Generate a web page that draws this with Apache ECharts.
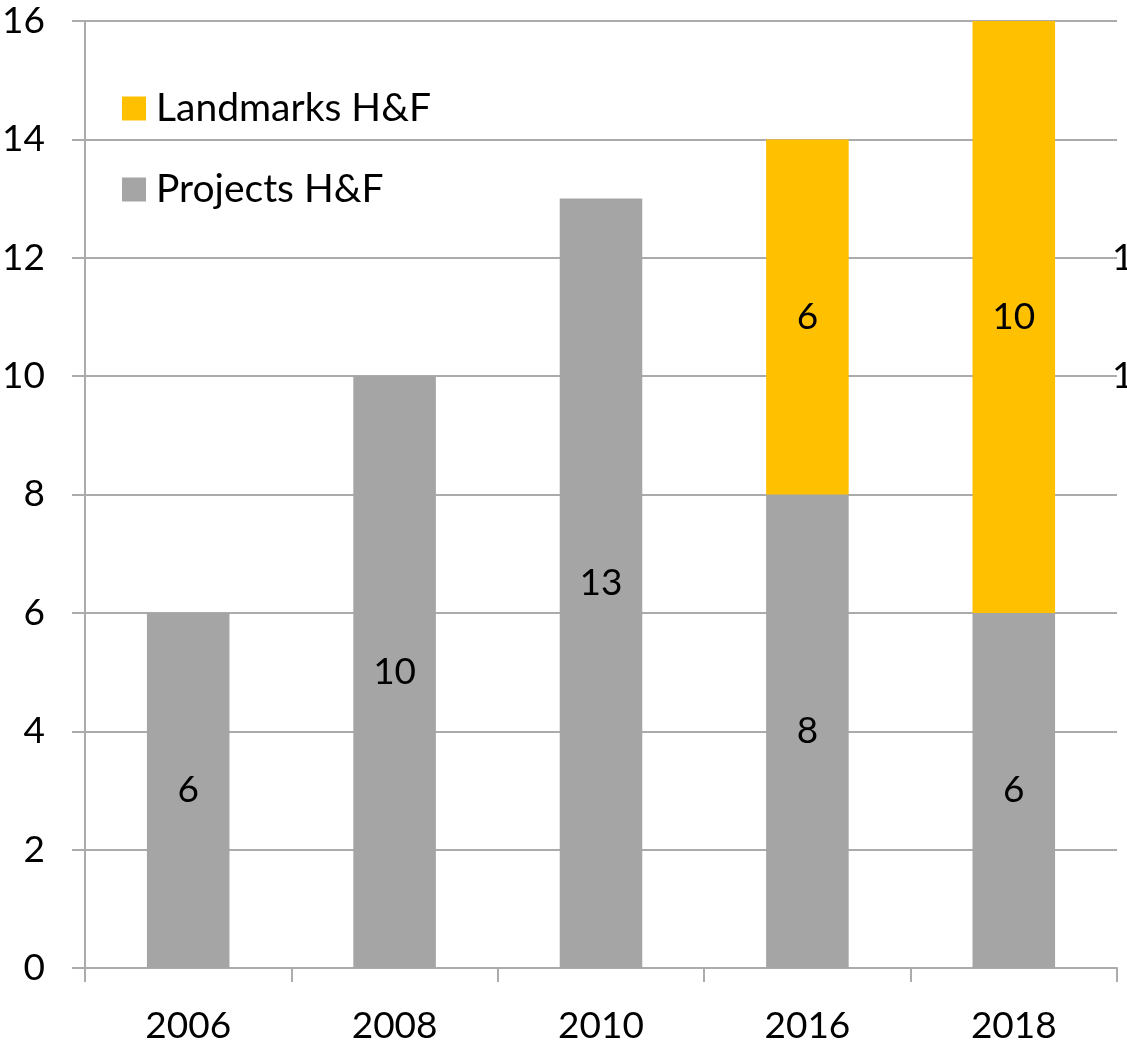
<!DOCTYPE html>
<html>
<head>
    <meta charset="utf-8">
    <title>H&F</title>
    <script src="https://cdn.jsdelivr.net/npm/echarts@6/dist/echarts.min.js"></script>
    <style>
        html, body { margin: 0; padding: 0; background: #fff; }
    </style>
</head>
<body>
<div id="main" style="width: 1127px;height:1052px;"></div>

<script type="text/javascript">
    // data
    var years = ['2006', '2008', '2010', '2016', '2018'];
    var projects = [6, 10, 13, 8, 6];
    var landmarks = [null, null, null, 6, 10];
    var yTicks = [0, 2, 4, 6, 8, 10, 12, 14, 16];
    var rightTicksShown = [10, 12];   // cut-off labels on the right edge

    var fontName = 'Lato, "Liberation Sans", sans-serif';
    var gridGray = '#ababab';

    var myChart = echarts.init(document.getElementById('main'));

    var labelStyle = {
        show: true,
        position: 'inside',
        color: '#000',
        fontSize: 37,
        fontFamily: fontName,
        padding: [8, 0, 0, 0],
        formatter: function (p) { return p.value == null ? '' : p.value; }
    };

    myChart.setOption({
        animation: false,
        textStyle: { fontFamily: fontName },
        grid: { left: 85, right: 10, top: 21, bottom: 84, containLabel: false, outerBoundsMode: 'none' },
        legend: {
            orient: 'vertical',
            left: 117,
            top: 84,
            itemWidth: 24,
            itemHeight: 24,
            itemGap: 42,
            icon: 'rect',
            data: ['Landmarks H&F', 'Projects H&F'],
            textStyle: { fontSize: 39, color: '#000', fontFamily: fontName, padding: [0, 0, 0, 5] }
        },
        xAxis: {
            type: 'category',
            data: years,
            axisLine: { lineStyle: { color: gridGray, width: 2 } },
            axisTick: { show: true, length: 14, lineStyle: { color: gridGray, width: 2 } },
            axisLabel: { fontSize: 37, color: '#000', margin: 40, fontFamily: fontName }
        },
        yAxis: [{
            type: 'value',
            min: yTicks[0],
            max: yTicks[yTicks.length - 1],
            interval: 2,
            axisLine: { show: true, lineStyle: { color: gridGray, width: 2 } },
            axisTick: { show: true, length: 13, lineStyle: { color: gridGray, width: 2 } },
            splitLine: { lineStyle: { color: gridGray, width: 2 } },
            axisLabel: { fontSize: 37, color: '#000', margin: 40, fontFamily: fontName }
        }, {
            type: 'value',
            position: 'right',
            min: yTicks[0],
            max: yTicks[yTicks.length - 1],
            interval: 2,
            axisLine: { show: false },
            axisTick: { show: false },
            splitLine: { show: false },
            axisLabel: {
                fontSize: 37, color: '#000', margin: -5, fontFamily: fontName,
                formatter: function (v) { return rightTicksShown.indexOf(v) >= 0 ? String(v) : ''; }
            }
        }],
        series: [{
            name: 'Projects H&F',
            type: 'bar',
            stack: 'total',
            barWidth: '40%',
            data: projects,
            itemStyle: { color: '#a5a5a5' },
            label: labelStyle
        }, {
            name: 'Landmarks H&F',
            type: 'bar',
            stack: 'total',
            barWidth: '40%',
            data: landmarks,
            itemStyle: { color: '#ffc000' },
            label: labelStyle
        }]
    });
</script>
</body>
</html>
